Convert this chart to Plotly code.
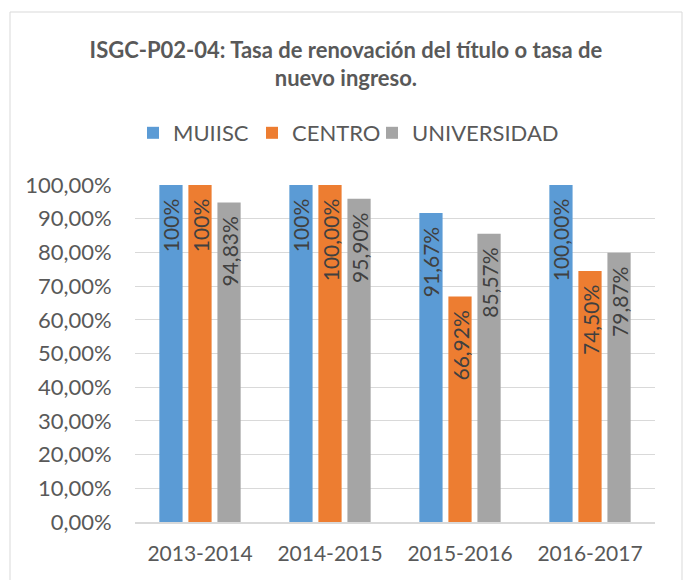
import plotly.graph_objects as go

categories = ["2013-2014", "2014-2015", "2015-2016", "2016-2017"]
series_names = ["MUIISC", "CENTRO", "UNIVERSIDAD"]
muiisc = [100.0, 100.0, 91.67, 100.0]
centro = [100.0, 100.0, 66.92, 74.50]
universidad = [94.83, 95.90, 85.57, 79.87]
muiisc_labels = ["100%", "100%", "91,67%", "100,00%"]
centro_labels = ["100%", "100,00%", "66,92%", "74,50%"]
universidad_labels = ["94,83%", "95,90%", "85,57%", "79,87%"]
colors = ["#5B9BD5", "#ED7D31", "#A5A5A5"]
title_text = "ISGC-P02-04: Tasa de renovación del título o tasa de<br>nuevo ingreso."

FONT = "Lato"
values = [muiisc, centro, universidad]
labels = [muiisc_labels, centro_labels, universidad_labels]
legend_ids = ["legend", "legend2", "legend3"]
legend_px = [133, 252, 372]

L, R, T, B = 135, 30, 185, 58
W, H = 685, 580
pw, ph = W - L - R, H - T - B

def px_x(x):
    return (x - L) / pw

def px_y(y):
    return (H - B - y) / ph

fig = go.Figure()
for name, vals, labs, col, lid in zip(series_names, values, labels, colors, legend_ids):
    fig.add_trace(go.Bar(
        name=name, x=categories, y=vals, text=labs,
        texttemplate="%{text}\u00a0\u00a0",
        marker=dict(color=col, line=dict(width=0)),
        textposition="inside", insidetextanchor="end", textangle=-90,
        textfont=dict(family=FONT, size=21, color="#404040"),
        hoverinfo="skip", legend=lid, showlegend=True,
    ))

legend_layout = {}
for lid, lx in zip(legend_ids, legend_px):
    legend_layout[lid] = dict(orientation="h", x=px_x(lx), xanchor="left",
                              y=px_y(133), yanchor="middle",
                              bgcolor="rgba(0,0,0,0)", visible=True,
                              font=dict(family=FONT, size=22, color="#595959"))

fig.update_layout(
    width=W, height=H, showlegend=True,
    margin=dict(l=L, r=R, t=T, b=B, autoexpand=False),
    paper_bgcolor="white", plot_bgcolor="white",
    separators=",.",
    barmode="group", bargap=0.33, bargroupgap=0.2,
    uniformtext=dict(minsize=21, mode="show"),
    font=dict(family=FONT, color="#595959"),
    title=dict(text=title_text, x=0.505, xref="container", xanchor="center",
               y=1 - 57.5 / H, yref="container", yanchor="middle",
               font=dict(family=FONT, size=22, color="#595959", weight="bold")),
    xaxis=dict(showgrid=False, showline=True, linecolor="#D9D9D9", linewidth=2,
               ticks="outside", ticklen=12, tickcolor="rgba(0,0,0,0)",
               tickfont=dict(family=FONT, size=21, color="#595959")),
    yaxis=dict(range=[0, 100], dtick=10, tick0=0, tickformat=".2f", ticksuffix="%",
               showgrid=True, gridcolor="#D9D9D9", gridwidth=1,
               zeroline=False, showline=False,
               ticks="outside", ticklen=18, tickcolor="rgba(0,0,0,0)",
               tickfont=dict(family=FONT, size=22, color="#595959")),
    shapes=[dict(type="rect", xref="paper", yref="paper",
                 x0=px_x(10), x1=px_x(682), y0=px_y(583), y1=px_y(12),
                 line=dict(color="#D9D9D9", width=1), layer="below")],
    **legend_layout,
)

fig.write_html("out.html", config={"displayModeBar": False},
               post_script="document.body.style.margin='0';document.body.style.overflow='hidden';")
